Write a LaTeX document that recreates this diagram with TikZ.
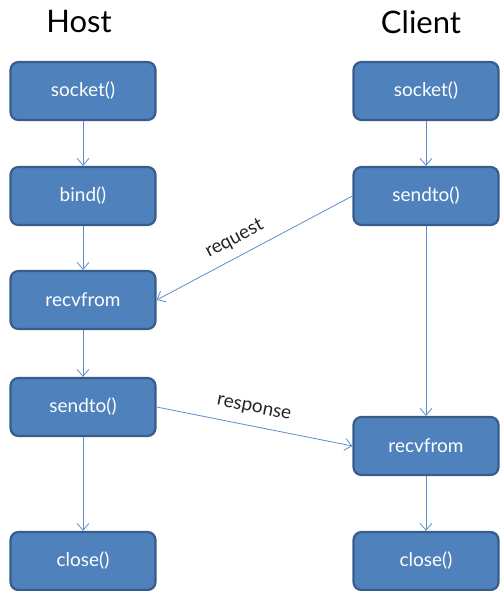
\documentclass[tikz,border=0pt]{standalone}
\usepackage{fontspec}
\setmainfont{Lato}
\usetikzlibrary{arrows.meta}
\definecolor{boxfill}{HTML}{4F81BD}
\definecolor{boxdraw}{HTML}{385D8A}
\definecolor{linec}{HTML}{5B8DCB}
\begin{document}
\begin{tikzpicture}[x=1pt,y=-1pt,
  fn/.style={draw=boxdraw,line width=2.2pt,fill=boxfill,rounded corners=8pt,
    minimum width=145pt,minimum height=58pt,text=white,font=\fontsize{19}{22}\selectfont,inner sep=0pt},
  title/.style={font=\fontsize{31}{36}\selectfont},
  conn/.style={draw=linec,line width=0.8pt,-{Straight Barb[length=7pt,width=12pt]}},
  lbl/.style={font=\fontsize{19}{22}\selectfont,text=black!85,inner sep=1pt}]
\useasboundingbox (0,0) rectangle (499,591);
\node[title] (host) at (79,22) {Host};
\node[title] (client) at (421,22) {Client};
\node[fn] (hs) at (83,91) {socket()};
\node[fn] (hb) at (83,196) {bind()};
\node[fn] (hr) at (83,300) {recvfrom};
\node[fn] (hsd) at (83,407) {sendto()};
\node[fn] (hc) at (83,561) {close()};
\node[fn] (cs) at (426,91) {socket()};
\node[fn] (csd) at (426,196) {sendto()};
\node[fn] (cr) at (426,446) {recvfrom};
\node[fn] (cc) at (426,561) {close()};
\draw[conn] (hs) -- (hb);
\draw[conn] (hb) -- (hr);
\draw[conn] (hr) -- (hsd);
\draw[conn] (hsd) -- (hc);
\draw[conn] (cs) -- (csd);
\draw[conn] (csd) -- (cr);
\draw[conn] (cr) -- (cc);
\draw[conn] (csd.west) -- (hr.east) node[lbl,pos=0.56,sloped,above=8pt] {request};
\draw[conn] (hsd.east) -- (cr.west) node[lbl,pos=0.48,sloped,above=9pt] {response};
\end{tikzpicture}
\end{document}
